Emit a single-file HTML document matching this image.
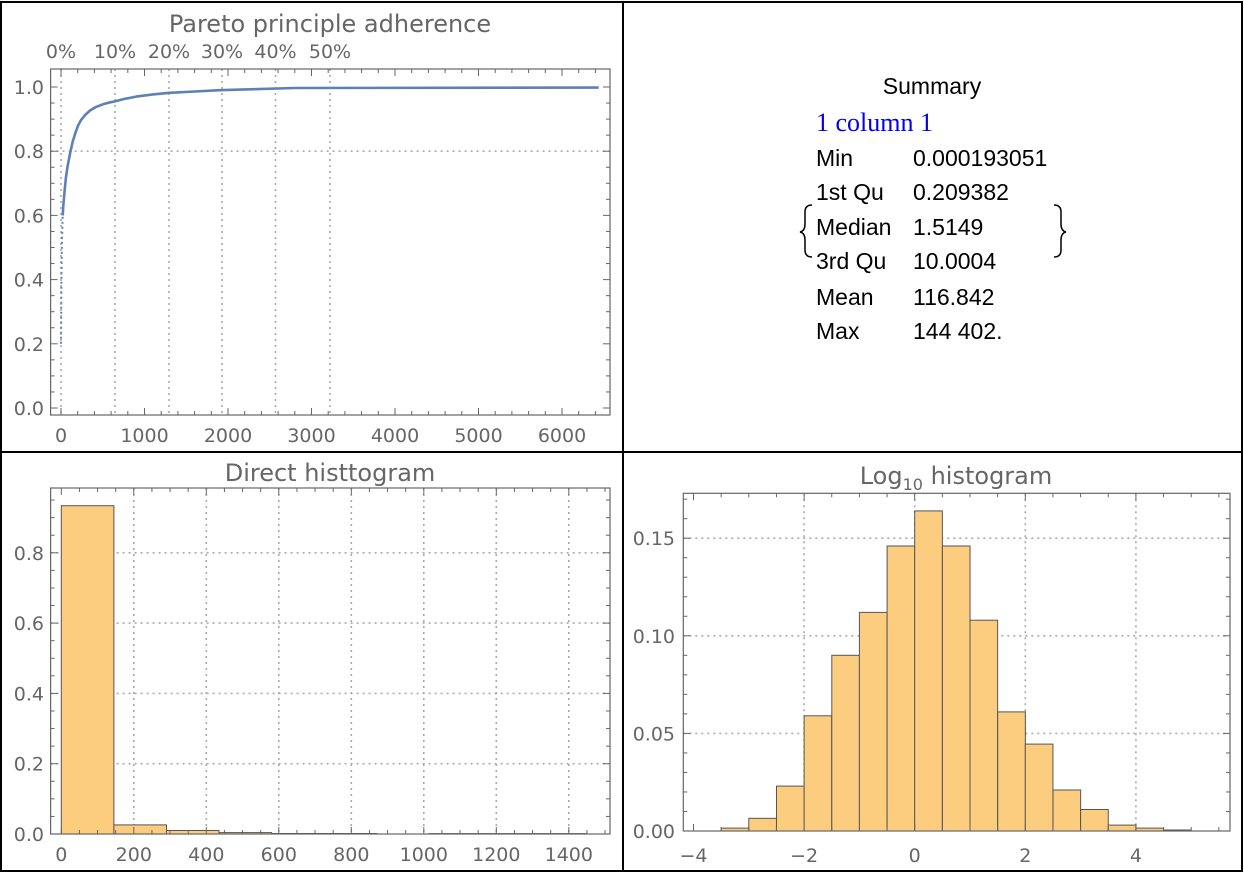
<!DOCTYPE html>
<html><head><meta charset="utf-8"><style>
html,body{margin:0;padding:0;background:#fff;}
svg{display:block;font-family:"DejaVu Sans","Liberation Sans",sans-serif;}
.t{fill:#666;font-size:19px;}
.ti{fill:#666;font-size:24px;}
.s{font-family:"Liberation Sans","DejaVu Sans",sans-serif;font-size:23px;fill:#000;}
</style></head><body>
<svg id="g" width="1244" height="874" xmlns="http://www.w3.org/2000/svg">
<rect x="0" y="0" width="1244" height="874" fill="#fff"/>
<g stroke="#000" stroke-width="2" fill="none">
<rect x="1" y="2" width="1241" height="869"/>
<line x1="623" y1="2" x2="623" y2="871"/>
<line x1="1" y1="452" x2="1242" y2="452"/>
</g>
<text class="ti" x="330" y="32" text-anchor="middle">Pareto principle adherence</text>
<text class="ti" x="330" y="481" text-anchor="middle">Direct histtogram</text>
<text class="ti" x="956" y="484" text-anchor="middle">Log<tspan font-size="16" dy="6">10</tspan><tspan dy="-6"> histogram</tspan></text>
<g id="p"></g>
<text class="s" x="932" y="94" text-anchor="middle">Summary</text>
<text x="816" y="131" font-family="Liberation Serif,serif" font-size="26" fill="#0000ee">1 column 1</text>
<g>
<text class="s" x="816" y="166">Min</text><text class="s" x="913" y="166">0.000193051</text>
<text class="s" x="816" y="200">1st Qu</text><text class="s" x="913" y="200">0.209382</text>
<text class="s" x="816" y="235">Median</text><text class="s" x="913" y="235">1.5149</text>
<text class="s" x="816" y="269">3rd Qu</text><text class="s" x="913" y="269">10.0004</text>
<text class="s" x="816" y="305">Mean</text><text class="s" x="913" y="305">116.842</text>
<text class="s" x="816" y="339">Max</text><text class="s" x="913" y="339">144 402.</text>
</g>
<path d="M812,205 Q805,205 805,212 L805,224 Q805,231 800,232 Q805,233 805,240 L805,250 Q805,257 812,257" stroke="#000" stroke-width="1.5" fill="none"/>
<path d="M1054,205 Q1061,205 1061,212 L1061,224 Q1061,231 1066,232 Q1061,233 1061,240 L1061,250 Q1061,257 1054,257" stroke="#000" stroke-width="1.5" fill="none"/>
</svg>
<script>
var g=document.getElementById('p'),h='';
function L(x1,y1,x2,y2,st){h+='<line x1="'+x1+'" y1="'+y1+'" x2="'+x2+'" y2="'+y2+'" '+st+'/>';}
var dot='stroke="#aaa" stroke-width="1.6" stroke-dasharray="2,4"';
var tk='stroke="#666" stroke-width="1"';
function T(x,y,s,a){h+='<text class="t" x="'+x+'" y="'+y+'" text-anchor="'+(a||'middle')+'">'+s+'</text>';}
function frame(x0,y0,x1,y1){h+='<rect x="'+x0+'" y="'+y0+'" width="'+(x1-x0)+'" height="'+(y1-y0)+'" fill="none" stroke="#666" stroke-width="1.2"/>';}
// plot1
var X0=50.6,Y0=69,X1=610,Y1=415;
[61,115,169,222,275.5,330].forEach(function(x,i){L(x,Y0,x,Y1,dot);T(x,58,(i*10)+'%');});
L(X0,151.2,X1,151.2,dot);
for(var v=0;v<=6400;v+=200){var x=61+v*0.0835,l=v%1000==0?7:4;L(x,Y1,x,Y1-l,tk);L(x,Y0,x,Y0+l,tk);}
for(var v=0;v<=6000;v+=1000)T(61+v*0.0835,442,v);
for(var f=0;f<=1.0001;f+=0.05){var y=408-f*321,l=Math.round(f*100)%20==0?7:4;L(X0,y,X0+l,y,tk);L(X1,y,X1-l,y,tk);}
for(var i=0;i<=5;i++)T(44,408-i*0.2*321+7,(i*0.2).toFixed(1),'end');
var lo=[[0,.2],[2,.3],[5,.4],[10,.5],[15,.56],[20,.6]];
var hi=[[20,.6],[28,.63],[36,.655],[48,.69],[60,.72],[80,.755],[110,.795],[140,.83],[170,.855],[205,.88],[240,.897],[290,.913],[350,.927],[420,.938],[500,.946],[570,.951],[644,.955],[760,.963],[900,.97],[1100,.977],[1300,.982],[1600,.986],[1900,.99],[2150,.992],[2800,.997],[6440,.998]];
function pl(a,st){h+='<polyline fill="none" stroke="#5e81b5" stroke-linejoin="round" '+st+' points="'+a.map(function(p){return (61+p[0]*0.0835).toFixed(1)+','+(408-p[1]*321).toFixed(1)}).join(' ')+'"/>';}
pl(lo,'stroke-width="2" stroke-dasharray="2,3"');
pl(hi,'stroke-width="2.6"');
frame(X0,Y0,X1,Y1);
// plot2
X0=50.6;Y0=488;X1=610;Y1=834;
[200,400,600,800,1000,1200,1400].forEach(function(v){L(61.3+v*0.3625,Y0,61.3+v*0.3625,Y1,dot);});
[.2,.4,.6,.8].forEach(function(f){L(X0,834-351.5*f,X1,834-351.5*f,dot);});
var b2=[.934,.026,.01,.004,.0015,.0015,0,.001,.001,.001];
b2.forEach(function(v,i){if(v<=0)return;var x=61.3+i*145*0.3625,w=145*0.3625,hh=v*351.5;h+='<rect x="'+x.toFixed(1)+'" y="'+(834-hh).toFixed(1)+'" width="'+w.toFixed(1)+'" height="'+hh.toFixed(1)+'" fill="#fccd7e" stroke="#555" stroke-width="1"/>';});
for(var v=0;v<=1500;v+=50){var x=61.3+v*0.3625,l=v%200==0?7:4;L(x,Y1,x,Y1-l,tk);L(x,Y0,x,Y0+l,tk);}
for(var v=0;v<=1400;v+=200)T(61.3+v*0.3625,861,v);
for(var f=0;f<=0.96;f+=0.05){var y=834-351.5*f,l=Math.round(f*100)%20==0?7:4;L(X0,y,X0+l,y,tk);L(X1,y,X1-l,y,tk);}
for(var i=0;i<=4;i++)T(44,834-i*0.2*351.5+7,(i*0.2).toFixed(1),'end');
frame(X0,Y0,X1,Y1);
// plot3
X0=683.3;Y0=493.3;X1=1230;Y1=831;
[-2,0,2,4].forEach(function(v){var x=914.7+55.3*v;L(x,Y0,x,Y1,dot);});
[.05,.1,.15].forEach(function(f){L(X0,831-1952*f,X1,831-1952*f,dot);});
var b3=[.0015,.0065,.023,.059,.090,.112,.146,.164,.146,.108,.061,.0445,.021,.011,.003,.0015,.0005];
b3.forEach(function(v,i){var x=914.7+55.3*(-3.5+i*0.5),hh=v*1952;h+='<rect x="'+x.toFixed(1)+'" y="'+(831-hh).toFixed(1)+'" width="27.65" height="'+hh.toFixed(1)+'" fill="#fccd7e" stroke="#555" stroke-width="1"/>';});
for(var v=-4;v<=5.5;v+=0.5){var x=914.7+55.3*v,l=Math.abs(v%2)<1e-9?7:4;L(x,Y1,x,Y1-l,tk);L(x,Y0,x,Y0+l,tk);}
[-4,-2,0,2,4].forEach(function(v){T(914.7+55.3*v,862,v<0?'\u2212'+(-v):v);});
for(var f=0;f<=0.17;f+=0.01){var y=831-1952*f,l=Math.round(f*100)%5==0?7:4;L(X0,y,X0+l,y,tk);L(X1,y,X1-l,y,tk);}
['0.00','0.05','0.10','0.15'].forEach(function(s,i){T(675,831-i*0.05*1952+7,s,'end');});
frame(X0,Y0,X1,Y1);
g.innerHTML=h;
</script>
</body></html>
